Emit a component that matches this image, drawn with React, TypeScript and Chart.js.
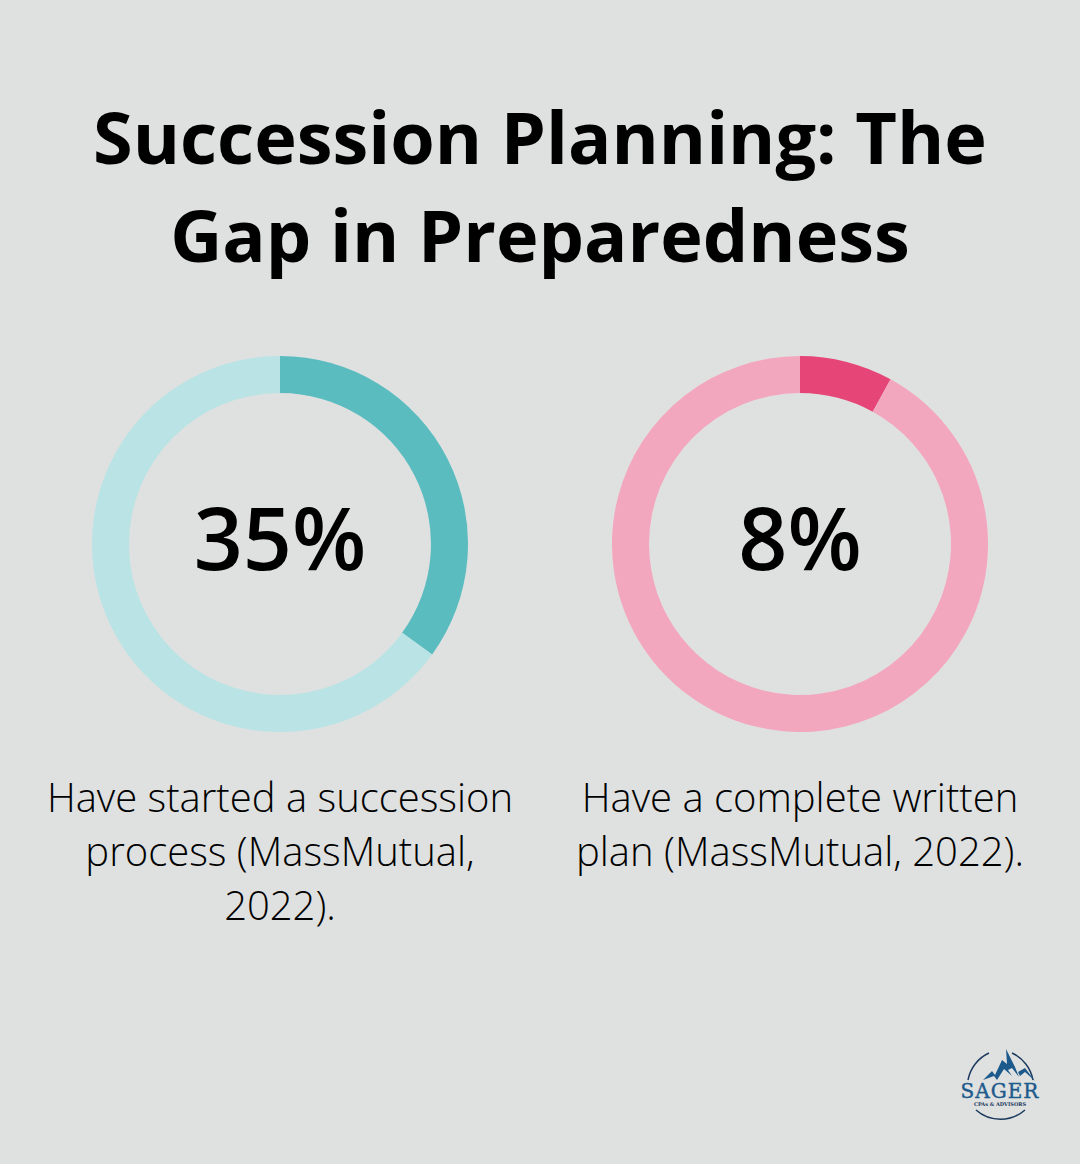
import { useEffect, useRef } from "react";
import { Chart, registerables } from "chart.js";

Chart.register(...registerables);

const titleLines = ["Succession Planning: The", "Gap in Preparedness"];
const shares = [35, 8];
const centerLabels = ["35%", "8%"];
const captions = [
  ["Have started a succession", "process (MassMutual,", "2022)."],
  ["Have a complete written", "plan (MassMutual, 2022)."],
];
const strongColors = ["#5bbcc0", "#e64577"];
const paleColors = ["#b9e3e5", "#f3a7bf"];

const FONT = '"Open Sans", sans-serif';

function Ring({ index, left }: { index: number; left: number }) {
  const canvasEl = useRef<HTMLCanvasElement>(null);

  useEffect(() => {
    const chart = new Chart(canvasEl.current!, {
      type: "doughnut",
      data: {
        labels: ["Yes", "Rest"],
        datasets: [
          {
            data: [shares[index], 100 - shares[index]],
            backgroundColor: [strongColors[index], paleColors[index]],
            borderWidth: 0,
          },
        ],
      },
      options: {
        animation: false,
        responsive: false,
        cutout: "80.3%",
        layout: { padding: 0 },
        plugins: { legend: { display: false }, tooltip: { enabled: false } },
      },
    });
    return () => {
      chart.destroy();
    };
  }, [index]);

  return (
    <div style={{ position: "absolute", left, top: 356, width: 376, height: 376 }}>
      <canvas ref={canvasEl} width={376} height={376} style={{ display: "block" }} />
      <div
        style={{
          position: "absolute",
          left: 0,
          right: 0,
          top: 126,
          textAlign: "center",
          fontSize: 86,
          lineHeight: "110px",
          fontWeight: 600,
          color: "#000",
        }}
      >
        {centerLabels[index]}
      </div>
    </div>
  );
}

function Caption({ lines, center }: { lines: string[]; center: number }) {
  return (
    <div
      style={{
        position: "absolute",
        left: center - 260,
        width: 520,
        top: 770,
        textAlign: "center",
        fontSize: 40,
        lineHeight: "54px",
        fontWeight: 300,
        color: "#000",
      }}
    >
      {lines.map((l) => (
        <div key={l}>{l}</div>
      ))}
    </div>
  );
}

function Logo() {
  return (
    <div style={{ position: "absolute", left: 950, top: 1040, width: 100, height: 90 }}>
      <svg width={100} height={90} style={{ position: "absolute", left: 0, top: 0 }}>
        <path d="M18 40 A37 37 0 0 1 39 13" fill="none" stroke="#1c3a5e" strokeWidth={1.5} />
        <path d="M62 13 A37 37 0 0 1 83 40" fill="none" stroke="#1c3a5e" strokeWidth={1.5} />
        <path d="M26 70 A37 37 0 0 0 75 70" fill="none" stroke="#1c3a5e" strokeWidth={1.5} />
        <path
          d="M33 40 L42 31 L45 35 L52 20 L57 24 L56 9 L65 27 L69 37 L62 28 L58 30 L62 36 L54 29 L47 40 L44 36 L33 40 Z"
          fill="#1d5a8c"
        />
        <path d="M68 32 L75 28 L85 41 L75 32 L70 36 Z" fill="#1d5a8c" />
      </svg>
      <div
        style={{
          position: "absolute",
          left: 0,
          right: 0,
          top: 38,
          textAlign: "center",
          fontFamily: '"DejaVu Serif", serif',
          fontSize: 20,
          lineHeight: "26px",
          letterSpacing: 1,
          fontWeight: 400,
          WebkitTextStroke: "0.4px #1d5a8c",
          color: "#1d5a8c",
        }}
      >
        SAGER
      </div>
      <div
        style={{
          position: "absolute",
          left: 0,
          right: 0,
          top: 60,
          textAlign: "center",
          fontFamily: '"DejaVu Serif", serif',
          fontSize: 5,
          lineHeight: "8px",
          fontWeight: 700,
          color: "#1c3a5e",
        }}
      >
        CPAs &amp; ADVISORS
      </div>
    </div>
  );
}

export default function App() {
  return (
    <div
      style={{
        position: "absolute",
        left: 0,
        top: 0,
        width: 1080,
        height: 1164,
        overflow: "hidden",
        background: "#dfe1e0",
        fontFamily: FONT,
      }}
    >
      <div
        style={{
          position: "absolute",
          left: 0,
          width: 1080,
          top: 87,
          textAlign: "center",
          fontSize: 72,
          lineHeight: "98px",
          fontWeight: 700,
          color: "#000",
        }}
      >
        {titleLines.map((l) => (
          <div key={l}>{l}</div>
        ))}
      </div>
      <Ring index={0} left={92} />
      <Ring index={1} left={612} />
      <Caption lines={captions[0]} center={280} />
      <Caption lines={captions[1]} center={800} />
      <Logo />
    </div>
  );
}
